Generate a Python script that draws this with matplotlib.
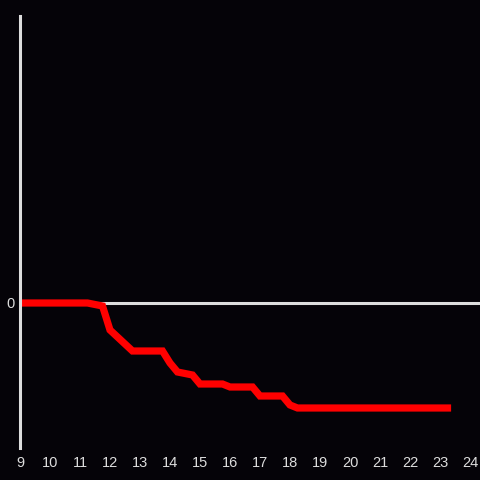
import matplotlib
matplotlib.use("Agg")
import matplotlib.pyplot as plt

# data (hour of day vs. change)
hours = [9.0, 11.25, 11.75, 12.0, 12.75, 13.75, 14.0, 14.25, 14.75, 15.0, 15.75,
         16.0, 16.75, 17.0, 17.75, 18.0, 18.25, 23.25]
values = [0, 0, -1, -9, -16, -16, -20, -23, -24, -27, -27,
          -28, -28, -31, -31, -34, -35, -35]
xticks = list(range(9, 25))

bg = '#050308'
fg = '#dddddd'

plt.rcParams['font.family'] = ['Liberation Sans', 'DejaVu Sans']

fig = plt.figure(figsize=(4.8, 4.8), dpi=100, facecolor=bg)
ax = fig.add_axes([20/480, 32/480, 460/480, 432/480], facecolor=bg)

ax.axhline(0, color=fg, lw=2.2, zorder=1)
ax.plot(hours, values, color='#ff0000', lw=5.2, zorder=2, solid_joinstyle='miter')

ax.set_xlim(9, 9 + 460/30)
ax.set_ylim(-145/3, 287/3)

ax.set_xticks(xticks)
ax.set_yticks([0])
ax.tick_params(length=0, colors=fg, labelsize=10.5, pad=6)
ax.tick_params(axis='y', pad=4)

for s in ['top', 'right', 'bottom']:
    ax.spines[s].set_visible(False)
ax.spines['left'].set_color(fg)
ax.spines['left'].set_linewidth(2.2)

fig.savefig('out.png', dpi=100, facecolor=bg)
